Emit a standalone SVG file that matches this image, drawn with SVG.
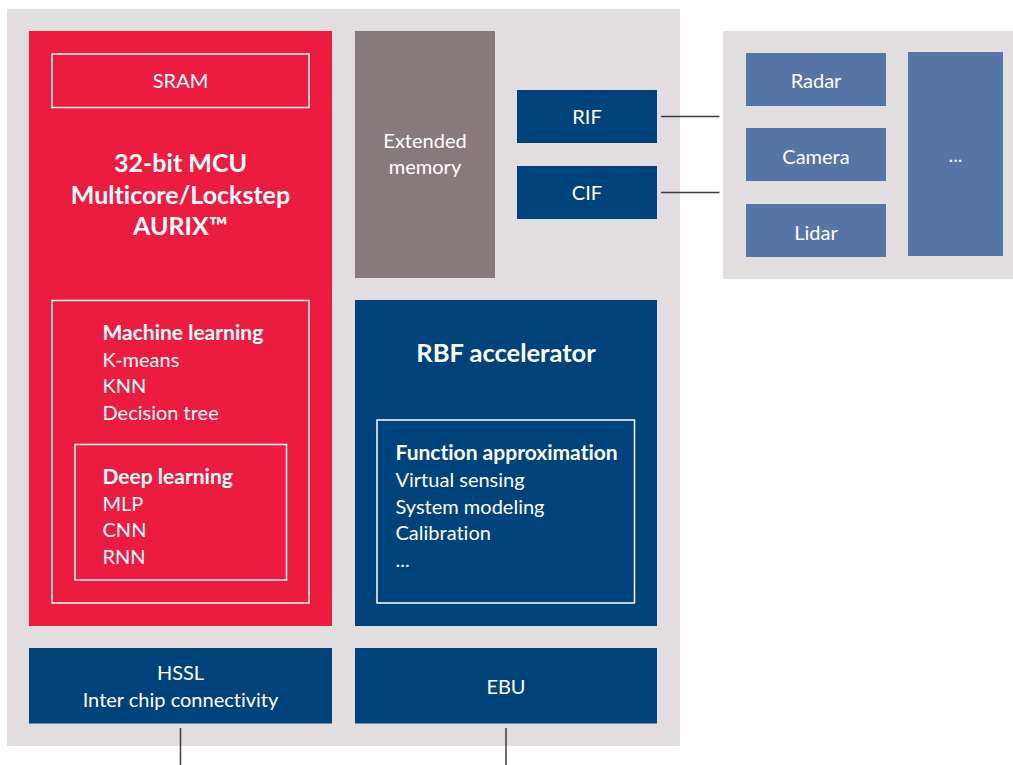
<svg xmlns="http://www.w3.org/2000/svg" width="1013" height="765" viewBox="0 0 1013 765">
<style>
text{font-family:Lato,"Open Sans","Liberation Sans",sans-serif;fill:#fff;font-size:20px;font-variant-ligatures:none}
.c{text-anchor:middle}
.b{font-weight:bold;font-size:21px}
.t{font-weight:bold;font-size:25px}
.red{fill:#ec1b40}
.dk{fill:#00427a}
.lt{fill:#5576a4}
.bg{fill:#e2dedf}
.ol{fill:none;stroke:#fff;stroke-width:1.5}
.ln{stroke:#3c3c3c;stroke-width:1.5;fill:none}
</style>
<g id="chip"><rect class="bg" x="7" y="9" width="673" height="737"/></g>
<g id="sensors"><rect class="bg" x="723" y="31" width="290" height="248"/></g>
<g id="mcu">
<rect class="red" x="29" y="31" width="303" height="595"/>
<text class="t c" x="180.5" y="172">32-bit MCU</text>
<text class="t c" x="180.5" y="203.5">Multicore/Lockstep</text>
<text class="t c" x="180.5" y="235">AURIX™</text>
</g>
<g id="sram">
<rect class="ol" x="52" y="54" width="257" height="53.5"/>
<text class="c" x="180.5" y="88">SRAM</text>
</g>
<g id="ml">
<rect class="ol" x="52" y="300.5" width="257" height="302.5"/>
<text class="b" x="102.5" y="340">Machine learning</text>
<text x="102.5" y="366.5">K-means</text>
<text x="102.5" y="393">KNN</text>
<text x="102.5" y="419.5">Decision tree</text>
</g>
<g id="dl">
<rect class="ol" x="75" y="444.5" width="211.5" height="135.5"/>
<text class="b" x="102.5" y="484">Deep learning</text>
<text x="102.5" y="510.5">MLP</text>
<text x="102.5" y="537">CNN</text>
<text x="102.5" y="563.5">RNN</text>
</g>
<g id="extmem">
<rect x="355" y="31" width="140" height="247" fill="#877a7d"/>
<text class="c" x="425" y="147.5">Extended</text>
<text class="c" x="425" y="173.5">memory</text>
</g>
<g id="rif">
<rect class="dk" x="517" y="90" width="140" height="53"/>
<text class="c" x="587" y="124">RIF</text>
</g>
<g id="cif">
<rect class="dk" x="517" y="166" width="140" height="53"/>
<text class="c" x="587" y="200">CIF</text>
</g>
<g id="radar">
<rect class="lt" x="746" y="53" width="140" height="53"/>
<text class="c" x="816" y="88">Radar</text>
</g>
<g id="camera">
<rect class="lt" x="746" y="128" width="140" height="53"/>
<text class="c" x="816" y="164">Camera</text>
</g>
<g id="lidar">
<rect class="lt" x="746" y="204" width="140" height="53"/>
<text class="c" x="816" y="240">Lidar</text>
</g>
<g id="more">
<rect class="lt" x="908" y="52" width="95" height="204"/>
<text class="c" x="955.5" y="162">...</text>
</g>
<g id="rbf">
<rect class="dk" x="355" y="300" width="302" height="326"/>
<text class="b c" x="506" y="362" style="font-size:25.5px">RBF accelerator</text>
</g>
<g id="func">
<rect class="ol" x="377" y="420" width="257.5" height="183"/>
<text class="b" x="395.5" y="460">Function approximation</text>
<text x="395.5" y="487">Virtual sensing</text>
<text x="395.5" y="513.5">System modeling</text>
<text x="395.5" y="540">Calibration</text>
<text x="395.5" y="566.5">...</text>
</g>
<g id="hssl">
<rect class="dk" x="29" y="648" width="303" height="75.5"/>
<text class="c" x="180.5" y="680">HSSL</text>
<text class="c" x="180.5" y="706.5">Inter chip connectivity</text>
</g>
<g id="ebu">
<rect class="dk" x="355" y="648" width="302" height="75.5"/>
<text class="c" x="506" y="694">EBU</text>
</g>
<g id="connectors">
<line class="ln" x1="661" y1="116.5" x2="719.5" y2="116.5"/>
<line class="ln" x1="661" y1="192.5" x2="719.5" y2="192.5"/>
<line class="ln" x1="180.5" y1="728" x2="180.5" y2="765"/>
<line class="ln" x1="506" y1="728" x2="506" y2="765"/>
</g>
</svg>
